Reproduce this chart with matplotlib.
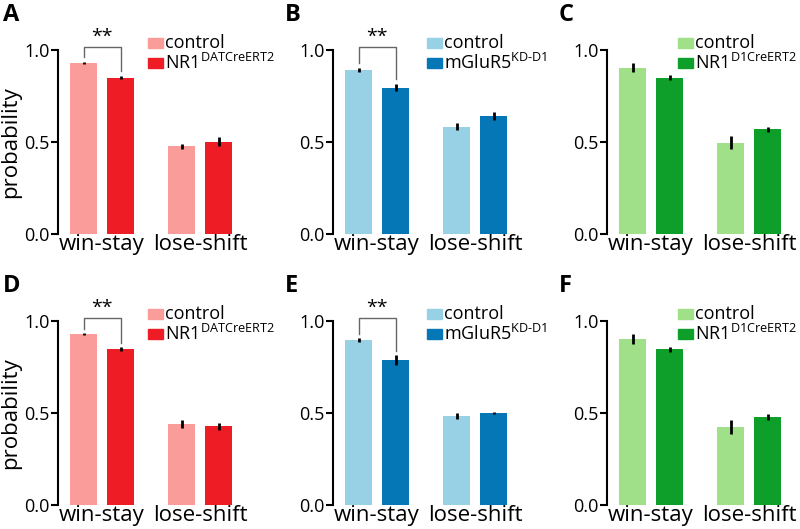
import matplotlib
matplotlib.use("Agg")
import matplotlib.pyplot as plt
from matplotlib.patches import Rectangle

plt.rcParams['font.family'] = ['Open Sans', 'DejaVu Sans']
plt.rcParams['mathtext.fontset'] = 'custom'
plt.rcParams['mathtext.rm'] = 'Open Sans'

categories = ["win-stay", "lose-shift"]
yticks = [0.0, 0.5, 1.0]
ytick_labels = ["0.0", "0.5", "1.0"]

panel_letters = ["A", "B", "C", "D", "E", "F"]
mutant_labels = ["NR1$^{\\mathrm{DATCreERT2}}$", "mGluR5$^{\\mathrm{KD\\text{-}D1}}$",
                 "NR1$^{\\mathrm{D1CreERT2}}$"] * 2

ctrl_A = [0.931, 0.476]; ctrl_A_err = [0.005, 0.015]
mut_A = [0.850, 0.502]; mut_A_err = [0.010, 0.025]
ctrl_B = [0.892, 0.583]; ctrl_B_err = [0.010, 0.020]
mut_B = [0.795, 0.641]; mut_B_err = [0.020, 0.020]
ctrl_C = [0.904, 0.496]; ctrl_C_err = [0.025, 0.035]
mut_C = [0.850, 0.569]; mut_C_err = [0.015, 0.015]
ctrl_D = [0.929, 0.440]; ctrl_D_err = [0.005, 0.020]
mut_D = [0.848, 0.428]; mut_D_err = [0.010, 0.020]
ctrl_E = [0.897, 0.485]; ctrl_E_err = [0.010, 0.015]
mut_E = [0.788, 0.500]; mut_E_err = [0.025, 0.008]
ctrl_F = [0.902, 0.424]; ctrl_F_err = [0.025, 0.040]
mut_F = [0.846, 0.477]; mut_F_err = [0.015, 0.015]

significant = [True, True, False, True, True, False]

colors = [("#F99C9A", "#EE1C24"), ("#98D1E6", "#0576B6"), ("#9FE088", "#0E9F2A")] * 2

ctrls = [ctrl_A, ctrl_B, ctrl_C, ctrl_D, ctrl_E, ctrl_F]
ctrl_errs = [ctrl_A_err, ctrl_B_err, ctrl_C_err, ctrl_D_err, ctrl_E_err, ctrl_F_err]
muts = [mut_A, mut_B, mut_C, mut_D, mut_E, mut_F]
mut_errs = [mut_A_err, mut_B_err, mut_C_err, mut_D_err, mut_E_err, mut_F_err]

W, H = 800, 529
fig = plt.figure(figsize=(8, 5.29), dpi=100)

lefts = [58, 333, 607]
tops = [234, 505]
ax_w, ax_h = 191, 184
legend_dx = [90, 94, 71]

bar_w = 0.2755
off = 0.189

for i in range(6):
    col = i % 3
    row = i // 3
    l = lefts[col]
    b = H - tops[row]
    ax = fig.add_axes([l / W, b / H, ax_w / W, ax_h / H])
    c_light, c_dark = colors[i]
    xs = [0, 1]
    ax.bar([x - off for x in xs], ctrls[i], width=bar_w, color=c_light, zorder=1)
    ax.bar([x + off for x in xs], muts[i], width=bar_w, color=c_dark, zorder=1)
    ax.errorbar([x - off for x in xs], ctrls[i], yerr=ctrl_errs[i], fmt='none',
                ecolor='black', elinewidth=2, capsize=0, zorder=2)
    ax.errorbar([x + off for x in xs], muts[i], yerr=mut_errs[i], fmt='none',
                ecolor='black', elinewidth=2, capsize=0, zorder=2)
    ax.set_xlim(-0.45, 1.5)
    ax.set_ylim(0, 1.0)
    ax.set_yticks(yticks)
    ax.set_yticklabels(ytick_labels, fontsize=13)
    ax.set_xticks(xs)
    ax.set_xticklabels(categories, fontsize=16)
    ax.tick_params(axis='x', length=0, pad=0)
    ax.tick_params(axis='y', length=5, width=1.5, pad=1)
    for s in ['top', 'right', 'bottom']:
        ax.spines[s].set_visible(False)
    ax.spines['left'].set_linewidth(1.5)
    if col == 0:
        ax.set_ylabel("probability", fontsize=16, labelpad=2)
    if significant[i]:
        x0, x1 = -off, off
        ytop = 1.018
        y0 = ctrls[i][0] + ctrl_errs[i][0] + 0.025
        y1 = muts[i][0] + mut_errs[i][0] + 0.025
        ax.plot([x0, x0, x1, x1], [y0, ytop, ytop, y1], color='#666666', lw=1,
                clip_on=False)
        ax.text(0, ytop + 0.005, "**", ha='center', va='bottom', fontsize=14,
                clip_on=False)
    # legend
    lx = legend_dx[col]
    trans = ax.transAxes
    for k, (lab, cc) in enumerate([("control", c_light), (mutant_labels[i], c_dark)]):
        yc_px = ax_h + 7 - k * 20
        ax.add_patch(Rectangle(((lx) / ax_w, (yc_px - 5) / ax_h), 15 / ax_w, 10 / ax_h,
                               transform=trans, color=cc, clip_on=False))
        ax.text((lx + 17) / ax_w, yc_px / ax_h, lab, transform=trans, fontsize=13,
                va='center', ha='left', clip_on=False)
    # panel letter
    fig.text((l - 55 if col == 0 else l - 48) / W, (b + ax_h + 35) / H, panel_letters[i],
             fontsize=17, fontweight='bold', va='center', ha='left')

fig.savefig("out.png", dpi=100)
